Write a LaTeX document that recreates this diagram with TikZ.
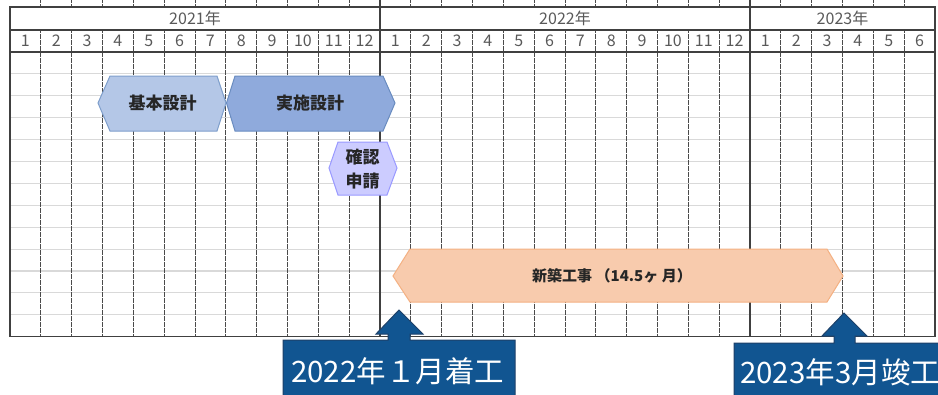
\documentclass[tikz,border=0pt]{standalone}
\usepackage{fontspec}
\newfontfamily\jp{Noto Sans CJK JP}
\definecolor{hdrtxt}{HTML}{595959}
\definecolor{gridv}{HTML}{4A4A4A}
\definecolor{gridh}{HTML}{D9D9D9}
\definecolor{frame}{HTML}{404040}
\definecolor{kfill}{HTML}{B4C7E7}
\definecolor{kdraw}{HTML}{7F9FCC}
\definecolor{jfill}{HTML}{8FAADC}
\definecolor{jdraw}{HTML}{6A8CC0}
\definecolor{afill}{HTML}{CCCCFF}
\definecolor{adraw}{HTML}{9999FF}
\definecolor{sfill}{HTML}{F8CBAD}
\definecolor{sdraw}{HTML}{F4B183}
\definecolor{cfill}{RGB}{17,85,145}
\definecolor{cdraw}{RGB}{30,65,105}
\begin{document}
\begin{tikzpicture}[x=1pt,y=-1pt,
  hdr/.style={font=\jp\fontsize{16}{16}\selectfont, text=hdrtxt, inner sep=0pt},
  lbl/.style={font=\jp\bfseries\fontsize{17}{17}\selectfont, text=black!85, inner sep=0pt},
  lbls/.style={font=\jp\bfseries\fontsize{15}{15}\selectfont, text=black!85, inner sep=0pt},
  calltxt/.style={font=\jp\fontsize{29.5}{29.5}\selectfont, text=white, inner sep=0pt},
  dotv/.style={draw=gridv, line width=0.9pt, dash pattern=on 0.6pt off 0.6pt},
  solidv/.style={draw=frame, line width=1.1pt},
  rowline/.style={draw=gridh, line width=1.1pt},
  framel/.style={draw=frame, line width=1.2pt},
  callout/.style={fill=cfill, draw=cdraw, line width=1pt}]
\useasboundingbox (0,0) rectangle (938,394);
\clip (0,0) rectangle (938,394);
\fill[white] (0,0) rectangle (938,394);
\def\cw{30.8333}
% body horizontal lines
\foreach \r in {1,...,12} \draw[rowline] (10,{52+21.9*\r}) -- (935,{52+21.9*\r});
% dotted month lines
\foreach \k in {1,...,11,13,14,...,23,25,26,...,29} {
  \draw[dotv] ({10+\k*\cw},30) -- ({10+\k*\cw},336.7);
  \draw[dotv] ({10+\k*\cw},0) -- ({10+\k*\cw},7);
}
% year dividers
\foreach \k in {12,24} \draw[solidv] ({10+\k*\cw},0) -- ({10+\k*\cw},336.7);
% frame
\draw[framel] (10,7) rectangle (935,336.7);
\draw[framel] (10,30) -- (935,30);
\draw[framel] (10,52) -- (935,52);
% year labels
\node[hdr] (y2021) at ({10+6*\cw},18.5) {2021年};
\node[hdr] (y2022) at ({10+18*\cw},18.5) {2022年};
\node[hdr] (y2023) at ({10+27*\cw},18.5) {2023年};
% month labels
\foreach \k in {0,...,29} {
  \pgfmathtruncatemacro\m{mod(\k,12)+1}
  \node[hdr] (m\k) at ({10+(\k+0.5)*\cw},41) {\m};
}
% phase shapes
\draw[fill=kfill, draw=kdraw, line width=1pt] (98,103) -- (110,76) -- (217,76) -- (226,103) -- (217,131) -- (110,131) -- cycle;
\node[lbl] (kihon) at (162.5,103) {基本設計};
\draw[fill=jfill, draw=jdraw, line width=1pt] (226.5,103) -- (235,76) -- (383,76) -- (395,103) -- (383,131) -- (235,131) -- cycle;
\node[lbl] (jisshi) at (310,103) {実施設計};
\draw[fill=afill, draw=adraw, line width=1pt] (329,168) -- (338,142) -- (387,142) -- (397,168) -- (387,195) -- (338,195) -- cycle;
\node[lbl] (kakunin) at (362.5,157) {確認};
\node[lbl] (shinsei) at (362.5,181) {申請};
\draw[fill=sfill, draw=sdraw, line width=1pt] (393,276) -- (410,249) -- (827,249) -- (843,276) -- (827,302) -- (410,302) -- cycle;
\node[lbls] (shinchiku) at (612,276) {新築工事 （14.5ヶ 月）};
% callouts
\draw[callout] (399,310) -- (423,334) -- (410,334) -- (410,340) -- (515,340) -- (515,400) -- (283,400) -- (283,340) -- (388,340) -- (388,334) -- (376,334) -- cycle;
\node[calltxt, anchor=west] (start) at (291,371) {2022年１月着工};
\draw[callout] (844,313) -- (867,336) -- (855,336) -- (855,343) -- (945,343) -- (945,400) -- (734,400) -- (734,343) -- (834,343) -- (834,336) -- (822,336) -- cycle;
\node[calltxt, anchor=west] (finish) at (740,372) {2023年3月竣工};
\end{tikzpicture}
\end{document}
